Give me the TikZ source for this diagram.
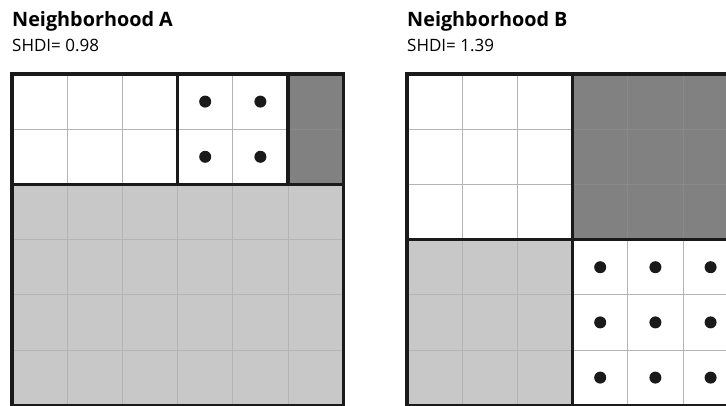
\documentclass[tikz,border=0pt]{standalone}
\usepackage{fontspec}
\setmainfont{Open Sans}
\definecolor{darkpatch}{HTML}{808180}
\definecolor{darkline}{HTML}{888988}
\definecolor{lightpatch}{HTML}{C8C8C8}
\definecolor{gridline}{HTML}{B4B4B4}
\definecolor{border}{HTML}{1A1A1A}
\tikzset{
  gridlines/.style={draw=gridline, line width=0.9pt},
  darkgridlines/.style={draw=darkline, line width=0.9pt},
  patchborder/.style={draw=border, line width=3.2pt},
  celldot/.style={fill=border, draw=none},
  titletext/.style={anchor=base west, inner sep=0pt, font=\fontsize{19.8}{22}\selectfont\bfseries},
  subtext/.style={anchor=base west, inner sep=0pt, font=\fontsize{17}{19}\selectfont},
}
\begin{document}
\begin{tikzpicture}[x=1pt,y=-1pt]
\useasboundingbox (0,0) rectangle (726,405);
\clip (0,0) rectangle (726,405);
\def\cs{55.2}
% ---------- Neighborhood A ----------
\node[titletext] (titleA) at (12,26) {Neighborhood A};
\node[subtext] (shdiA) at (12,51.5) {SHDI= 0.98};
\begin{scope}[shift={(12,74)}]
  \fill[white] (0,0) rectangle (3*\cs,2*\cs);
  \fill[white] (3*\cs,0) rectangle (5*\cs,2*\cs);
  \fill[darkpatch] (5*\cs,0) rectangle (6*\cs,2*\cs);
  \fill[lightpatch] (0,2*\cs) rectangle (6*\cs,6*\cs);
  \foreach \i in {1,...,5} {
    \draw[gridlines] (\i*\cs,0) -- (\i*\cs,6*\cs);
    \draw[gridlines] (0,\i*\cs) -- (6*\cs,\i*\cs);
  }
  \draw[darkgridlines] (5*\cs,\cs) -- (6*\cs,\cs);
  \foreach \c in {3,4} \foreach \r in {0,1}
    \fill[celldot] ({(\c+0.5)*\cs},{(\r+0.5)*\cs}) circle (6);
  \draw[patchborder] (0,0) rectangle (6*\cs,6*\cs);
  \draw[patchborder] (0,2*\cs) -- (6*\cs,2*\cs);
  \draw[patchborder] (3*\cs,0) -- (3*\cs,2*\cs);
  \draw[patchborder] (5*\cs,0) -- (5*\cs,2*\cs);
\end{scope}
% ---------- Neighborhood B ----------
\node[titletext] (titleB) at (407,26) {Neighborhood B};
\node[subtext] (shdiB) at (407,51.5) {SHDI= 1.39};
\begin{scope}[shift={(407,74)}]
  \fill[white] (0,0) rectangle (3*\cs,3*\cs);
  \fill[darkpatch] (3*\cs,0) rectangle (6*\cs,3*\cs);
  \fill[lightpatch] (0,3*\cs) rectangle (3*\cs,6*\cs);
  \fill[white] (3*\cs,3*\cs) rectangle (6*\cs,6*\cs);
  \foreach \i in {1,...,5} {
    \draw[gridlines] (\i*\cs,0) -- (\i*\cs,6*\cs);
    \draw[gridlines] (0,\i*\cs) -- (6*\cs,\i*\cs);
  }
  \foreach \i in {1,2} {
    \draw[darkgridlines] ({(3+\i)*\cs},0) -- ({(3+\i)*\cs},3*\cs);
    \draw[darkgridlines] (3*\cs,\i*\cs) -- (6*\cs,\i*\cs);
  }
  \foreach \c in {3,4,5} \foreach \r in {3,4,5}
    \fill[celldot] ({(\c+0.5)*\cs},{(\r+0.5)*\cs}) circle (6);
  \draw[patchborder] (0,0) rectangle (6*\cs,6*\cs);
  \draw[patchborder] (0,3*\cs) -- (6*\cs,3*\cs);
  \draw[patchborder] (3*\cs,0) -- (3*\cs,6*\cs);
\end{scope}
\end{tikzpicture}
\end{document}
